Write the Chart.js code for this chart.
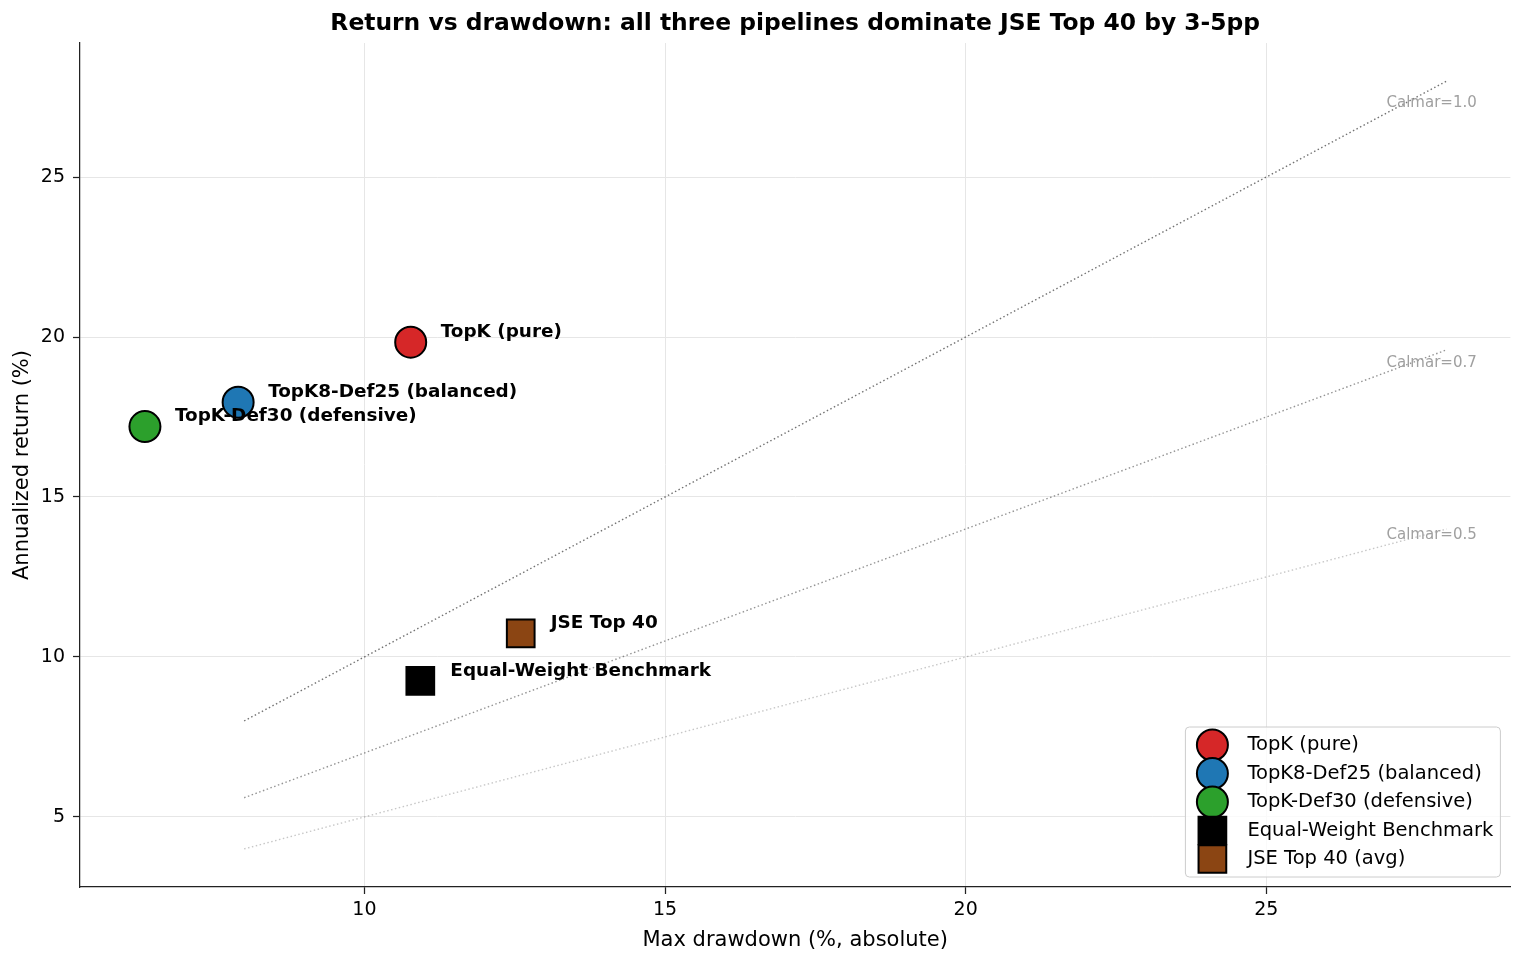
<!DOCTYPE html>
<html>
<head>
<meta charset="utf-8">
<title>Return vs drawdown</title>
<script src="https://cdn.jsdelivr.net/npm/chart.js@4.4.0/dist/chart.umd.min.js"></script>
<style>
  html, body { margin: 0; padding: 0; background: #fff; overflow: hidden; width: 1525px; height: 962px; }
  canvas { display: block; }
</style>
</head>
<body>
<!-- canvas iets breder: Chart.js houdt rechts ~22px vrij, zo eindigt de as op x=1510 -->
<canvas id="chart" width="1532" height="962" style="width:1532px;height:962px"></canvas>
<script>
// Strategieen: max drawdown (x) vs geannualiseerd rendement (y)
const names = ['TopK (pure)', 'TopK8-Def25 (balanced)', 'TopK-Def30 (defensive)', 'Equal-Weight Benchmark', 'JSE Top 40 (avg)'];
const pointLabels = ['TopK (pure)', 'TopK8-Def25 (balanced)', 'TopK-Def30 (defensive)', 'Equal-Weight Benchmark', 'JSE Top 40'];
const maxDrawdown = [10.77, 7.9, 6.35, 10.93, 12.6];
const annReturn = [19.84, 17.96, 17.2, 9.25, 10.74];

// Calmar-referentielijnen (y = ratio * x)
const calmarRatios = [1.0, 0.7, 0.5];
const calmarX = [8, 28];
const calmarLabelX = 27;

const xTicks = [10, 15, 20, 25];
const yTicks = [5, 10, 15, 20, 25];

// stijl
const colors = ['#d62728', '#1f77b4', '#2ca02c', '#000000', '#8b4513'];
const shapes = ['circle', 'circle', 'circle', 'rect', 'rect'];
const calmarColors = ['rgba(0,0,0,0.55)', 'rgba(0,0,0,0.42)', 'rgba(0,0,0,0.22)'];
const FONT = "'DejaVu Sans', 'Liberation Sans', sans-serif";
const CIRCLE_R = 15.5;
const RECT_R = 19.6;

Chart.defaults.font.family = FONT;
Chart.defaults.color = '#000';

const datasets = [];
calmarRatios.forEach((r, i) => {
  datasets.push({
    label: 'Calmar=' + r.toFixed(1),
    type: 'line',
    data: calmarX.map(x => ({ x: x, y: r * x })),
    borderColor: calmarColors[i],
    borderWidth: 1.4,
    borderDash: [1.5, 2.5],
    pointRadius: 0,
    fill: false,
    order: 10
  });
});
names.forEach((n, i) => {
  datasets.push({
    label: n,
    type: 'scatter',
    data: [{ x: maxDrawdown[i], y: annReturn[i] }],
    backgroundColor: colors[i],
    borderColor: '#000',
    borderWidth: 2,
    pointStyle: shapes[i],
    pointRadius: shapes[i] === 'rect' ? RECT_R : CIRCLE_R,
    pointHoverRadius: shapes[i] === 'rect' ? RECT_R : CIRCLE_R,
    order: 5 - i
  });
});

function drawMarker(ctx, shape, x, y, color) {
  ctx.save();
  ctx.fillStyle = color;
  ctx.strokeStyle = '#000';
  ctx.lineWidth = 2;
  ctx.beginPath();
  if (shape === 'rect') {
    const s = Math.SQRT1_2 * RECT_R;
    ctx.rect(x - s, y - s, 2 * s, 2 * s);
  } else {
    ctx.arc(x, y, CIRCLE_R, 0, Math.PI * 2);
  }
  ctx.fill();
  ctx.stroke();
  ctx.restore();
}

const extras = {
  id: 'extras',
  afterDatasetsDraw(chart) {
    const ctx = chart.ctx;
    const xs = chart.scales.x, ys = chart.scales.y;
    ctx.save();
    // Calmar labels
    ctx.font = '15px ' + FONT;
    ctx.fillStyle = '#a0a0a0';
    ctx.textAlign = 'left';
    ctx.textBaseline = 'middle';
    calmarRatios.forEach(r => {
      ctx.fillText('Calmar=' + r.toFixed(1), xs.getPixelForValue(calmarLabelX), ys.getPixelForValue(r * calmarLabelX + 0.3));
    });
    // labels bij punten
    ctx.font = 'bold 18.4px ' + FONT;
    ctx.fillStyle = '#000';
    pointLabels.forEach((t, i) => {
      ctx.fillText(t, xs.getPixelForValue(maxDrawdown[i]) + 30, ys.getPixelForValue(annReturn[i]) - 10);
    });
    ctx.restore();
  },
  afterDraw(chart) {
    const ctx = chart.ctx;
    const a = chart.chartArea;
    ctx.save();
    // titel
    ctx.font = 'bold 23.4px ' + FONT;
    ctx.fillStyle = '#000';
    ctx.textAlign = 'center';
    ctx.textBaseline = 'middle';
    ctx.fillText('Return vs drawdown: all three pipelines dominate JSE Top 40 by 3-5pp', (a.left + a.right) / 2, 24);

    // legenda rechtsonder
    const w = 315, h = 150;
    const lx = a.right - 10 - w, ly = a.bottom - 10 - h;
    ctx.fillStyle = 'rgba(255,255,255,0.8)';
    ctx.strokeStyle = '#cccccc';
    ctx.lineWidth = 1;
    ctx.beginPath();
    ctx.roundRect(lx, ly, w, h, 4);
    ctx.fill();
    ctx.stroke();
    ctx.font = '19.5px ' + FONT;
    ctx.textAlign = 'left';
    names.forEach((n, i) => {
      const cy = ly + 18 + i * 28.5;
      drawMarker(ctx, shapes[i], lx + 27, cy, colors[i]);
    });
    ctx.fillStyle = '#000';
    names.forEach((n, i) => {
      const cy = ly + 18 + i * 28.5;
      ctx.fillText(n, lx + 62, cy);
    });
    ctx.restore();
  }
};

new Chart(document.getElementById('chart'), {
  data: { datasets: datasets },
  options: {
    responsive: false,
    animation: false,
    events: [],
    devicePixelRatio: 1,
    layout: { padding: { top: 43, right: 15, left: 0, bottom: 0 } },
    plugins: {
      legend: { display: false },
      title: { display: false },
      tooltip: { enabled: false }
    },
    scales: {
      x: {
        type: 'linear',
        min: 5.27,
        max: 29.06,
        afterBuildTicks: s => { s.ticks = xTicks.map(v => ({ value: v })); },
        afterFit: s => { s.height = 75; },
        ticks: { font: { size: 19 }, color: '#000', padding: 5, maxRotation: 0 },
        grid: { color: '#e6e6e6', lineWidth: 1, tickColor: '#222', tickLength: 7, tickWidth: 1.25 },
        border: { color: '#222', width: 1.25 },
        title: { display: true, text: 'Max drawdown (%, absolute)', font: { size: 21 }, color: '#000', padding: { top: 4, bottom: 9 } }
      },
      y: {
        type: 'linear',
        min: 2.81,
        max: 29.19,
        afterBuildTicks: s => { s.ticks = yTicks.map(v => ({ value: v })); },
        afterFit: s => { s.width = 80; },
        ticks: { font: { size: 19 }, color: '#000', padding: 8 },
        grid: { color: '#e6e6e6', lineWidth: 1, tickColor: '#222', tickLength: 7, tickWidth: 1.25 },
        border: { color: '#222', width: 1.25 },
        title: { display: true, text: 'Annualized return (%)', font: { size: 21 }, color: '#000', padding: { top: 10, bottom: 4 } }
      }
    }
  },
  plugins: [extras]
});
</script>
</body>
</html>
